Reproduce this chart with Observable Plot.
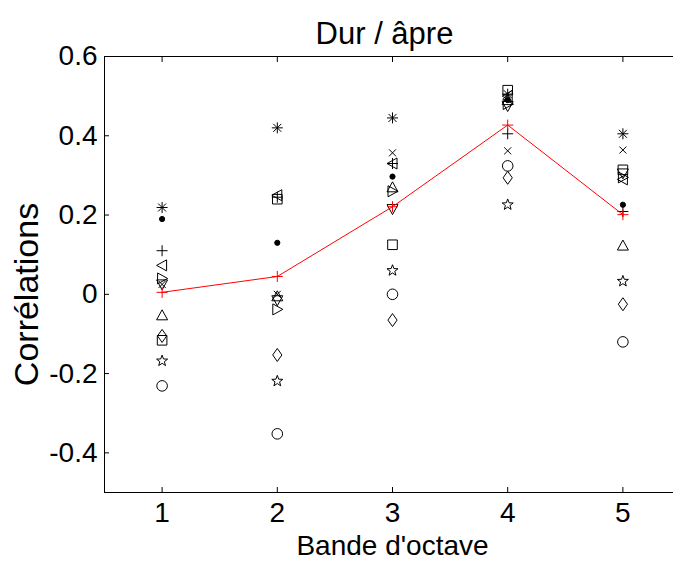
<!DOCTYPE html>
<html><head><meta charset="utf-8">
<script src="https://cdn.jsdelivr.net/npm/d3@7"></script>
<script src="https://cdn.jsdelivr.net/npm/@observablehq/plot@0.6"></script>
<style>
html,body{margin:0;padding:0;background:#fff;overflow:hidden;width:673px;height:565px;}
#chart{width:673px;height:565px;overflow:hidden;}
#chart svg{max-width:none !important;}
</style></head><body><div id="chart"></div>
<script>
const bands = [1, 2, 3, 4, 5];
const xTicks = [1, 2, 3, 4, 5];
const yTicks = [-0.4, -0.2, 0, 0.2, 0.4, 0.6];
const xDomain = [0.5, 5.5];
const yDomain = [-0.5, 0.6];
const titleText = "Dur / âpre";
const xLabel = "Bande d'octave";
const yLabel = "Corrélations";

// individual series (one per marker), values at bands 1..5
const sAsterisk = [0.219, 0.42, 0.445, 0.505, 0.405];
const sPoint    = [0.19, 0.13, 0.297, 0.49, 0.226];
const sPlus     = [0.11, 0.245, 0.33, 0.405, 0.209];
const sTimes    = [0.025, 0.0, 0.357, 0.362, 0.364];
const sTriLeft  = [0.073, 0.25, 0.33, 0.50, 0.29];
const sTriRight = [0.04, -0.038, 0.26, 0.48, 0.295];
const sTriUp    = [-0.053, -0.005, 0.27, 0.49, 0.123];
const sTriDown  = [0.025, -0.015, 0.215, 0.475, 0.305];
const sSquare   = [-0.116, 0.24, 0.125, 0.515, 0.314];
const sStar     = [-0.168, -0.219, 0.06, 0.226, 0.033];
const sDiamond  = [-0.105, -0.153, -0.065, 0.294, -0.025];
const sCircle   = [-0.231, -0.352, 0.0, 0.324, -0.12];
// mean curve (red)
const sMean     = [0.005, 0.045, 0.221, 0.427, 0.201];

function poly(pts) {
  return {draw(ctx) {
    ctx.moveTo(pts[0][0], pts[0][1]);
    for (let i = 1; i < pts.length; i++) ctx.lineTo(pts[i][0], pts[i][1]);
    ctx.closePath();
  }};
}
function lines(segs) {
  return {draw(ctx) {
    for (const [a, b, c, d] of segs) { ctx.moveTo(a, b); ctx.lineTo(c, d); }
  }};
}
const r = 5.5, d = 4;
const symAsterisk = lines([[-r,0,r,0],[0,-r,0,r],[-d,-d,d,d],[-d,d,d,-d]]);
const symPlus = lines([[-r,0,r,0],[0,-r,0,r]]);
const symTimes = lines([[-3.5,-3.5,3.5,3.5],[-3.5,3.5,3.5,-3.5]]);
const symPoint = {draw(ctx) { ctx.moveTo(2.6, 0); ctx.arc(0, 0, 2.6, 0, 2 * Math.PI); }};
const symCircle = {draw(ctx) { ctx.moveTo(5.3, 0); ctx.arc(0, 0, 5.3, 0, 2 * Math.PI); }};
const symSquare = poly([[-4.8,-4.8],[4.8,-4.8],[4.8,4.8],[-4.8,4.8]]);
const symDiamond = poly([[0,-6.5],[4.6,0],[0,6.5],[-4.6,0]]);
const symTriUp = poly([[0,-5.5],[5.5,4.5],[-5.5,4.5]]);
const symTriDown = poly([[0,5.5],[5.5,-4.5],[-5.5,-4.5]]);
const symTriLeft = poly([[-5.5,0],[4.5,-5.5],[4.5,5.5]]);
const symTriRight = poly([[5.5,0],[-4.5,-5.5],[-4.5,5.5]]);
const symStar = (() => {
  const pts = [];
  for (let i = 0; i < 10; i++) {
    const rad = i % 2 === 0 ? 5.8 : 2.4;
    const a = -Math.PI / 2 + i * Math.PI / 5;
    pts.push([rad * Math.cos(a), rad * Math.sin(a)]);
  }
  return poly(pts);
})();

const seriesList = [
  [sAsterisk, symAsterisk, "none"],
  [sPoint, symPoint, "black"],
  [sPlus, symPlus, "none"],
  [sTimes, symTimes, "none"],
  [sTriLeft, symTriLeft, "none"],
  [sTriRight, symTriRight, "none"],
  [sTriUp, symTriUp, "none"],
  [sTriDown, symTriDown, "none"],
  [sSquare, symSquare, "none"],
  [sStar, symStar, "none"],
  [sDiamond, symDiamond, "none"],
  [sCircle, symCircle, "none"]
];

const font = "'Liberation Sans', Arial, sans-serif";

const marks = [
  Plot.ruleX([xDomain[0]], {stroke: "black", strokeWidth: 1}),
  Plot.ruleY(yDomain, {stroke: "black", strokeWidth: 1}),
  Plot.axisX(xTicks, {anchor: "bottom", tickSize: -5, tickPadding: 15, tickFormat: d => String(d),
    label: xLabel, labelAnchor: "center", labelArrow: "none", labelOffset: 62, fontSize: 28}),
  Plot.axisX(xTicks, {anchor: "top", tickSize: -5, tickFormat: () => "", label: null}),
  Plot.axisY(yTicks, {anchor: "left", tickSize: -5, tickPadding: 12, tickFormat: d => String(d),
    label: null, fontSize: 28}),
  Plot.text([yLabel], {frameAnchor: "left", rotate: -90, dx: -77, dy: 20, text: d => d, fontSize: 34,
    textAnchor: "middle", lineAnchor: "middle"}),
  Plot.text([titleText], {frameAnchor: "top", dx: -8, dy: -13, text: d => d, fontSize: 31, lineAnchor: "bottom"})
];
for (const [vals, sym, fill] of seriesList) {
  marks.push(Plot.dot(bands.map((b, i) => ({x: b, y: vals[i]})), {
    x: "x", y: "y", symbol: sym, r: 5, stroke: "black", strokeWidth: 1, fill
  }));
}
const meanData = bands.map((b, i) => ({x: b, y: sMean[i]}));
marks.push(Plot.line(meanData, {x: "x", y: "y", stroke: "#ff0000", strokeWidth: 1}));
marks.push(Plot.dot(meanData, {x: "x", y: "y", symbol: symPlus, r: 5, stroke: "#ff0000", strokeWidth: 1}));

const chart = Plot.plot({
  width: 680, height: 565,
  marginLeft: 104, marginRight: 0, marginTop: 56, marginBottom: 73,
  style: {fontFamily: font, fontSize: "32px", color: "black", background: "white", maxWidth: "none"},
  x: {domain: xDomain},
  y: {domain: yDomain},
  marks
});
document.getElementById("chart").appendChild(chart);
</script></body></html>
